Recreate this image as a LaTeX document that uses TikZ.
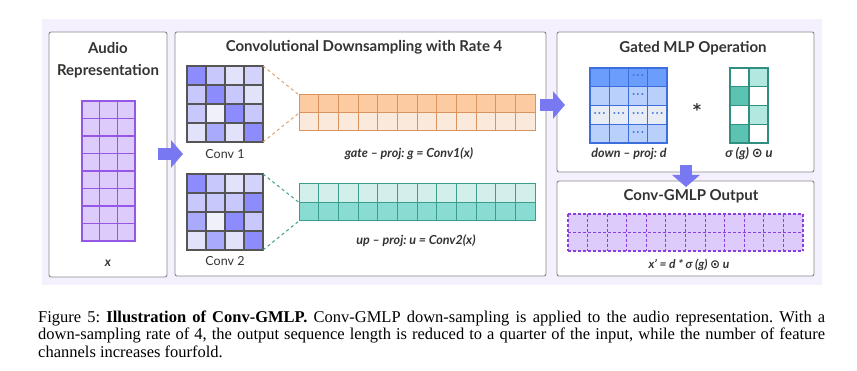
\documentclass[tikz,border=0pt]{standalone}
\usepackage{fontspec}
\setmainfont{Liberation Serif}
\newfontfamily\dia{Lato}
\newfontfamily\symf{DejaVu Sans}
\usetikzlibrary{arrows.meta}
\frenchspacing

\definecolor{bglav}{HTML}{F4F0FD}
\definecolor{panelgray}{HTML}{8A8A8A}
\definecolor{ink}{HTML}{333333}
\definecolor{arrowblue}{HTML}{7878F2}
\definecolor{audiofill}{HTML}{DCCBFB}
\definecolor{audioline}{HTML}{9457E6}
\definecolor{outline}{HTML}{8A40E0}
\definecolor{gridgray}{HTML}{555555}
\definecolor{convA}{HTML}{8C8CFC}
\definecolor{convB}{HTML}{C8C8FC}
\definecolor{convC}{HTML}{E2E2FA}
\definecolor{convD}{HTML}{D2D2FC}
\definecolor{convE}{HTML}{F0F0FA}
\definecolor{convF}{HTML}{AAAAFC}
\definecolor{orangetop}{HTML}{FDCBA2}
\definecolor{orangebot}{HTML}{FBE9DC}
\definecolor{orangeline}{HTML}{D9935E}
\definecolor{orangedash}{HTML}{E0A070}
\definecolor{tealtop}{HTML}{D2EFEB}
\definecolor{tealbot}{HTML}{88DCD2}
\definecolor{tealline}{HTML}{3D9D8D}
\definecolor{blueA}{HTML}{6B9DFD}
\definecolor{blueB}{HTML}{B9CFFC}
\definecolor{blueC}{HTML}{E8ECF4}
\definecolor{blueline}{HTML}{3D6FDC}
\definecolor{sigA}{HTML}{5CC2B2}
\definecolor{sigB}{HTML}{B3E8E0}
\definecolor{sigline}{HTML}{2F8F80}

\begin{document}
\begin{tikzpicture}
  [x=1pt,y=-1pt,
   panel/.style={draw=panelgray,fill=white,rounded corners=2pt,line width=0.9pt,inner sep=0pt},
   title/.style={font=\dia\bfseries\fontsize{15}{22}\selectfont,text=ink,align=center},
   lab/.style={font=\dia\fontsize{12.5}{14}\selectfont,text=ink},
   eq/.style={font=\dia\bfseries\itshape\fontsize{12.5}{14}\selectfont,text=ink},
   dots/.style={text=blueline,font=\dia\bfseries\fontsize{10}{10}\selectfont,inner sep=0pt},
   bigarrow/.style={line width=12pt,draw=arrowblue,-{Triangle[width=27pt,length=12pt]}},
   capline/.style={anchor=base west,inner sep=0pt,font=\fontsize{16.5}{17}\selectfont}]
  \useasboundingbox (0,0) rectangle (857,371);
  \fill[bglav] (42,19) rectangle (822,285);

  % panels
  \node[panel,minimum width=118pt,minimum height=245pt] (audio) at (108,154.5) {};
  \node[panel,minimum width=371pt,minimum height=244pt] (down) at (360.5,154) {};
  \node[panel,minimum width=257pt,minimum height=140pt] (gmlp) at (685.5,102) {};
  \node[panel,minimum width=257pt,minimum height=95pt] (out) at (685.5,228.5) {};

  \node[title] (audiot) at (108,60) {Audio\\Representation};
  \node[title] (downt) at (364,47) {Convolutional Downsampling with Rate 4};
  \node[title] (gmlpt) at (693,48) {Gated MLP Operation};
  \node[title] (outt) at (691,196) {Conv-GMLP Output};

  % audio representation x
  \foreach \r in {0,...,7}
    \foreach \c in {0,...,2}
      \draw[fill=audiofill,draw=audioline,line width=1.1pt]
        (82+\c*17.67,101+\r*17.5) rectangle ++(17.67,17.5);
  \node[eq] (xlab) at (108,263) {x};

  % conv kernels
  \foreach \col [count=\i from 0] in {convA,convB,convC,convD,convB,convA,convB,convC,
                                      convB,convE,convA,convB,convC,convF,convC,convA} {
    \pgfmathtruncatemacro\r{\i/4}
    \pgfmathtruncatemacro\c{mod(\i,4)}
    \draw[fill=\col,draw=gridgray,line width=1.2pt] (187+\c*19,66+\r*19) rectangle ++(19,19);
  }
  \foreach \col [count=\i from 0] in {convA,convB,convC,convD,convB,convB,convB,convA,
                                      convF,convE,convA,convB,convC,convF,convC,convA} {
    \pgfmathtruncatemacro\r{\i/4}
    \pgfmathtruncatemacro\c{mod(\i,4)}
    \draw[fill=\col,draw=gridgray,line width=1.2pt] (187+\c*19,174+\r*19) rectangle ++(19,19);
  }
  \node[lab] (conv1) at (225,154) {Conv 1};
  \node[lab] (conv2) at (225,261) {Conv 2};

  % gate / up projections
  \foreach \c in {0,...,11} {
    \draw[fill=orangetop,draw=orangeline,line width=1pt] (299+\c*19.67,95) rectangle ++(19.67,18);
    \draw[fill=orangebot,draw=orangeline,line width=1pt] (299+\c*19.67,113) rectangle ++(19.67,18);
    \draw[fill=tealtop,draw=tealline,line width=1pt] (299+\c*19.67,184) rectangle ++(19.67,18.5);
    \draw[fill=tealbot,draw=tealline,line width=1pt] (299+\c*19.67,202.5) rectangle ++(19.67,18.5);
  }
  \coordinate (c1tr) at (263,66);
  \coordinate (c1br) at (263,142);
  \coordinate (c2tr) at (263,174);
  \coordinate (c2br) at (263,250);
  \coordinate (gtl) at (299,95);
  \coordinate (gml) at (299,113);
  \coordinate (uml) at (299,202.5);
  \coordinate (ubl) at (299,221);
  \draw[dashed,orangedash,line width=1pt] (c1tr) -- (gtl) (c1br) -- (gml);
  \draw[dashed,tealline,line width=1pt] (c2tr) -- (uml) (c2br) -- (ubl);
  \node[eq] (gatelab) at (409,154) {gate – proj: g = Conv1(x)};
  \node[eq] (uplab) at (416,241) {up – proj: u = Conv2(x)};

  % gated mlp
  \foreach \col [count=\r from 0] in {blueA,blueB,blueC,blueB}
    \foreach \c in {0,...,3}
      \draw[fill=\col,draw=blueline,line width=1.1pt] (590+\c*19.25,68+\r*18.75) rectangle ++(19.25,18.75);
  \foreach \r in {0,1,3}
    \node[dots] (dotc\r) at (638.1,77+\r*18.75) {·\,·\,·};
  \foreach \c in {0,1,2,3}
    \node[dots] (dotr\c) at (599.6+\c*19.25,114.5) {·\,·\,·};
  \foreach \col [count=\i from 0] in {white,sigB,sigA,white,white,sigB,sigA,white} {
    \pgfmathtruncatemacro\r{\i/2}
    \pgfmathtruncatemacro\c{mod(\i,2)}
    \draw[fill=\col,draw=sigline,line width=1.1pt] (730+\c*19,68+\r*18.75) rectangle ++(19,18.75);
  }
  \node[font=\symf\bfseries\fontsize{16}{16}\selectfont,text=ink] (star) at (697,110) {*};
  \node[eq] (downlab) at (629,154) {down – proj: d};
  \node[eq,font=\dia\bfseries\itshape\fontsize{13}{14}\selectfont] (siglab) at (749,154) {σ (g) {\symf ⊙} u};

  % output
  \fill[audiofill] (568,214) rectangle (803,251);
  \foreach \c in {0,...,12}
    \draw[outline,line width=1.1pt,dash pattern=on 3pt off 2pt] (568+\c*19.58,214) -- ++(0,37);
  \foreach \r in {0,1,2}
    \draw[outline,line width=1.1pt,dash pattern=on 3pt off 2pt] (568,214+\r*18.5) -- ++(235,0);
  \node[eq,font=\dia\bfseries\itshape\fontsize{12}{14}\selectfont] (outlab) at (689,265) {x’ = d * σ (g) {\symf ⊙} u};

  % arrows
  \coordinate (a1s) at (158,154);
  \coordinate (a1e) at (183,154);
  \coordinate (a2s) at (540,105);
  \coordinate (a2e) at (565,105);
  \coordinate (a3s) at (686,165);
  \coordinate (a3e) at (686,187);
  \draw[bigarrow] (a1s) -- (a1e);
  \draw[bigarrow] (a2s) -- (a2e);
  \draw[bigarrow] (a3s) -- (a3e);

  % caption
  \node[capline] (cap1) at (38,323) {\makebox[787pt][s]{Figure 5: \textbf{Illustration of Conv-GMLP.} Conv-GMLP down-sampling is applied to the audio representation. With a}};
  \node[capline] (cap2) at (38,340) {\makebox[787pt][s]{down-sampling rate of 4, the output sequence length is reduced to a quarter of the input, while the number of feature}};
  \node[capline] (cap3) at (38,357) {channels increases fourfold.};
\end{tikzpicture}
\end{document}
